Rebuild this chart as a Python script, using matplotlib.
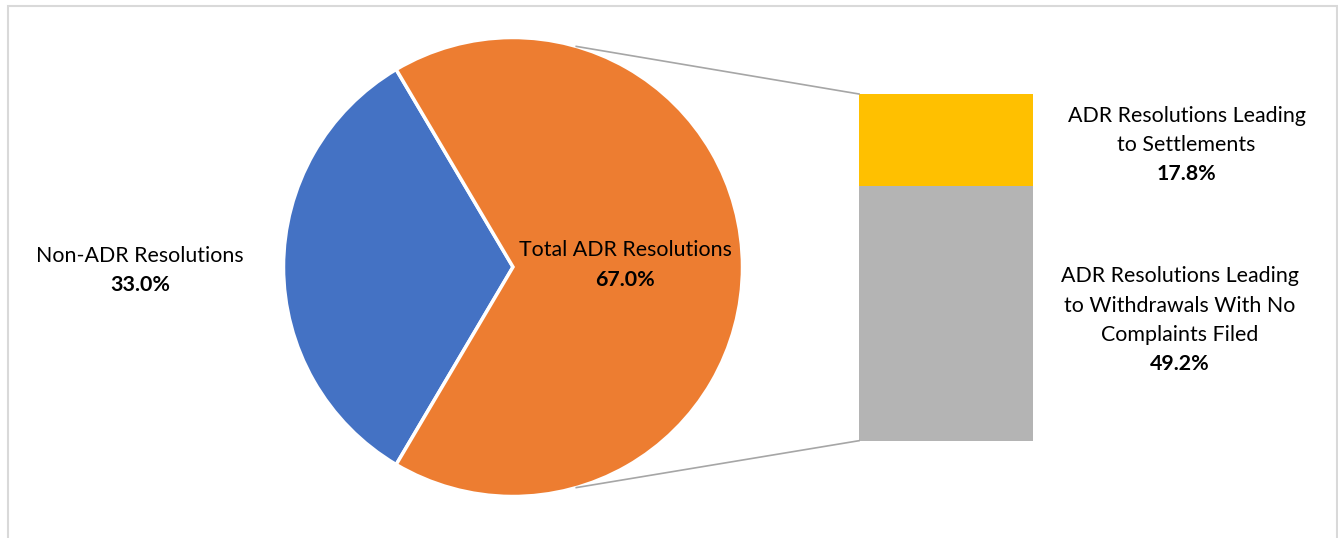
import matplotlib
matplotlib.use("Agg")
import matplotlib.pyplot as plt
from matplotlib.patches import Rectangle
import numpy as np

# ---- data ----
pie_labels = ["Non-ADR Resolutions", "Total ADR Resolutions"]
pie_values = [33.0, 67.0]
bar_labels = ["ADR Resolutions Leading to Withdrawals With No Complaints Filed",
              "ADR Resolutions Leading to Settlements"]
bar_values = [49.2, 17.8]

pie_colors = ["#4472C4", "#ED7D31"]
bar_colors = ["#B4B4B4", "#FFC000"]

W, H = 1338, 538
plt.rcParams['font.family'] = ['Lato', 'DejaVu Sans']
FS = 15.4

fig = plt.figure(figsize=(W / 100, H / 100), dpi=100)
ax = fig.add_axes([0, 0, 1, 1])
ax.set_xlim(0, W)
ax.set_ylim(0, H)
ax.axis('off')

def py(y):  # pixel row -> data y
    return H - y

# frame
ax.add_patch(Rectangle((7.5, -10), 1329.5, py(6) + 10, fill=False,
                       edgecolor="#D9D9D9", linewidth=1.5))

# pie
cx, cy, r = 513, py(267), 229.5
start = 180 - pie_values[0] / 100 * 360 / 2
ax.pie(pie_values, colors=pie_colors, startangle=start, counterclock=True,
       center=(cx, cy), radius=r, frame=True,
       wedgeprops=dict(edgecolor="white", linewidth=2.5))
ax.set_xlim(0, W)
ax.set_ylim(0, H)
ax.set_aspect('auto')
ax.axis('off')

# bar of pie
bx0, bx1 = 859, 1033
base = py(440.7)
scale = (py(94) - base) / sum(bar_values)
bottom = base
for v, c in zip(bar_values, bar_colors):
    ax.bar((bx0 + bx1) / 2, v * scale, width=bx1 - bx0, bottom=bottom,
           color=c, edgecolor='none')
    bottom += v * scale

# connector lines
ang = np.deg2rad(74)
top_pt = (cx + r * np.cos(ang), cy + r * np.sin(ang))
bot_pt = (cx + r * np.cos(-ang), cy + r * np.sin(-ang))
ax.plot([top_pt[0], bx0], [top_pt[1], bottom], color="#A6A6A6", lw=1.2)
ax.plot([bot_pt[0], bx0], [bot_pt[1], base], color="#A6A6A6", lw=1.2)

def label(x, first_baseline_px, lines, pct, spacing=29.3):
    y = first_baseline_px
    for ln in lines:
        ax.text(x, py(y), ln, ha='center', va='baseline', fontsize=FS, color='black')
        y += spacing
    ax.text(x, py(y), f"{pct:.1f}%", ha='center', va='baseline', fontsize=FS,
            color='black', fontweight='bold')

label(140, 262, [pie_labels[0]], pie_values[0])
label(625.5, 256.5, [pie_labels[1]], pie_values[1])
label(1186.5, 121.5, ["ADR Resolutions Leading", "to Settlements"], bar_values[1])
label(1180, 282.5, ["ADR Resolutions Leading", "to Withdrawals With No", "Complaints Filed"], bar_values[0])

fig.savefig("out.png", dpi=100)
